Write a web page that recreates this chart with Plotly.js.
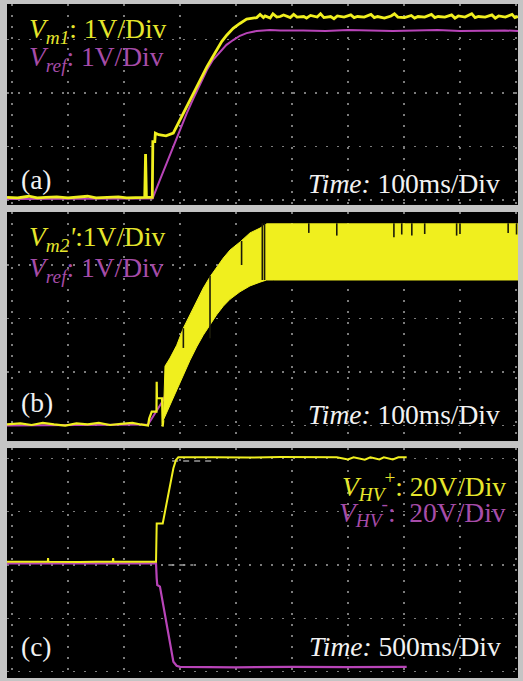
<!DOCTYPE html>
<html>
<head>
<meta charset="utf-8">
<script src="https://cdn.plot.ly/plotly-3.0.1.min.js"></script>
<style>
  html, body { margin: 0; padding: 0; background: #c4c4c4; }
  #chart { width: 523px; height: 681px; }
</style>
</head>
<body>
<div id="chart"></div>
<script>
// ---------------- Panel (a): Vm1 and Vref, 100 ms/div, 1 V/div ----------------
const aVm1Time = [-8.9, 10, 30, 45, 60, 80, 100, 118, 135, 150, 170, 190, 205, 222, 237, 238.5, 240, 250.5, 251.5, 255, 256, 262, 275, 288,
  300, 312, 321, 330, 339, 348, 357, 365.5, 374.5, 383.4, 395, 407, 419, 437,
  443, 449, 452, 461, 466, 473, 479, 485, 497, 503, 509, 521, 526, 533, 545, 551, 557, 569, 575, 581, 593, 605, 611, 617, 629, 641, 647, 653, 665, 677, 683, 689, 701, 713, 719, 725,
  737, 749, 755, 761, 773, 785, 791, 797, 809, 821, 827, 833, 845, 857, 863, 869, 881, 893, 898, 903.6];
const aVm1 = [0.05, 0.04, 0.07, 0.04, 0.05, 0.06, 0.04, 0.05, 0.07, 0.04, 0.05, 0.06, 0.04, 0.05, 0.05, 0.86, 0.05, 0.05, 1.09, 1.09, 1.25, 1.22, 1.20, 1.25,
  1.50, 1.74, 1.93, 2.12, 2.30, 2.49, 2.65, 2.80, 2.96, 3.08, 3.21, 3.30, 3.38, 3.41,
  3.47, 3.41, 3.44, 3.40, 3.48, 3.42, 3.43, 3.46, 3.41, 3.47, 3.42, 3.43, 3.40, 3.45, 3.42, 3.48, 3.41, 3.43, 3.39, 3.44, 3.42, 3.46, 3.41, 3.43, 3.42, 3.47, 3.41, 3.43, 3.40, 3.44, 3.48, 3.42, 3.41, 3.45, 3.40, 3.43,
  3.42, 3.47, 3.41, 3.43, 3.42, 3.46, 3.40, 3.44, 3.42, 3.48, 3.41, 3.43, 3.42, 3.46, 3.40, 3.44, 3.42, 3.47, 3.41, 3.43];
const aVrefTime = [-8.9, 251, 264, 276, 288, 300, 312, 324, 336, 348, 359, 371, 383, 395, 407, 419, 437, 461, 479, 520, 560, 600, 640, 680, 720, 760, 800, 840, 880, 903.6];
const aVref = [0.02, 0.03, 0.37, 0.69, 1.00, 1.31, 1.62, 1.90, 2.18, 2.43, 2.62, 2.77, 2.90, 2.99, 3.07, 3.12, 3.16, 3.18, 3.17, 3.17, 3.16, 3.18, 3.17, 3.16, 3.17, 3.18, 3.16, 3.17, 3.17, 3.16];

// ---------------- Panel (b): Vm2' and Vref, 100 ms/div, 1 V/div ----------------
const bVm2Time = [-8.9, 15, 35, 55, 75, 95, 115, 135, 155, 175, 195, 215, 230, 242.9, 245, 249.5, 258, 258.4, 258.8, 268, 269, 270.2];
const bVm2 = [0.02, 0.04, 0.01, 0.05, 0.02, 0.00, 0.04, 0.02, 0.05, 0.01, 0.03, 0.05, 0.02, 0.00, 0.13, 0.26, 0.26, 0.82, 0.51, 0.51, -0.02, 0.10];
const bBandTime = [270.2, 273.2, 282.1, 294.1, 305.9, 317.9, 329.8, 341.6, 353.6, 365.5, 377.3, 389.3, 407.1, 425, 442.9, 454.8, 466.6, 496.4, 903.6];
const bBandHigh = [0.10, 1.11, 1.26, 1.50, 1.82, 2.07, 2.31, 2.57, 2.78, 2.96, 3.13, 3.28, 3.43, 3.60, 3.69, 3.77, 3.77, 3.77, 3.77];
const bBandLow = [0.10, 0.17, 0.40, 0.68, 0.96, 1.22, 1.47, 1.69, 1.88, 2.07, 2.23, 2.36, 2.50, 2.61, 2.68, 2.72, 2.72, 2.72, 2.72];
const bVrefTime = [-8.9, 243, 268, 300, 330, 354, 380, 407, 437, 470, 903.6];
const bVref = [0.00, 0.02, 0.44, 1.10, 1.75, 2.28, 2.75, 3.03, 3.12, 3.15, 3.15];
// dropouts (dark gaps) inside the switching band
const bGapTime = [306, 353.6, 410, 447, 451, 530, 580, 682, 696, 714, 737, 794, 800, 886, 901];
const bGapTop = [1.82, 2.80, 3.45, 3.78, 3.78, 3.78, 3.78, 3.78, 3.78, 3.78, 3.78, 3.78, 3.78, 3.78, 3.78];
const bGapBottom = [1.45, 1.63, 3.00, 2.72, 2.72, 3.60, 3.55, 3.52, 3.57, 3.55, 3.58, 3.55, 3.58, 3.60, 3.57];

// ---------------- Panel (c): VHV+ and VHV-, 500 ms/div, 20 V/div ----------------
const cTime = [-44.6, 300, 320, 322, 325, 600, 900, 903, 906, 1100, 1286, 1292, 1346, 1366, 1396, 1426, 1441, 1464, 1485,
  1800, 2100, 2400, 2700, 2900, 3000, 3050, 3150, 3200, 3280, 3320, 3400, 3450, 3524];
const cVhvPlus = [1.2, 1.3, 1.2, 2.6, 1.2, 1.1, 1.3, 2.6, 1.2, 1.2, 1.24, 15.6, 15.6, 20.0, 26.3, 33.1, 36.3, 39.4, 40.4,
  40.4, 40.3, 40.5, 40.3, 40.4, 39.6, 40.4, 39.5, 40.4, 39.6, 40.4, 39.6, 40.4, 40.4];
const cMinusTime = [-44.6, 500, 1000, 1286, 1292, 1297, 1321, 1351, 1381, 1411, 1426, 1441, 1470, 1500, 2000, 2500, 3000, 3524];
const cVhvMinus = [0.6, 0.6, 0.7, 0.64, -5.0, -7.5, -8.1, -15.0, -22.5, -30.0, -33.8, -36.3, -37.8, -38.2, -38.4, -38.2, -38.3, -38.2];
const cGrayTime = [1430, 1800, null, 1396, 1620];
const cGrayLevel = [39.0, 39.0, null, 0.0, 0.0];

// ---------------- styling ----------------
const YEL = '#f0ef1e', PUR = '#b844b8';
const YEL_T = '#e6e62c', PUR_T = '#a64ca8';
const SERIF = 'Liberation Serif, Times New Roman, serif';
const FS = 27.5;

function segs(t, top, bot) {
  const x = [], y = [];
  for (let i = 0; i < t.length; i++) { x.push(t[i], t[i], null); y.push(top[i], bot[i], null); }
  return {x, y};
}
const gaps = segs(bGapTime, bGapTop, bGapBottom);

const base = {mode: 'lines', hoverinfo: 'skip', showlegend: false};
const traces = [
  Object.assign({}, base, {x: aVrefTime, y: aVref, xaxis: 'x', yaxis: 'y', line: {color: PUR, width: 2}}),
  Object.assign({}, base, {x: aVm1Time, y: aVm1, xaxis: 'x', yaxis: 'y', line: {color: YEL, width: 2.8}}),

  Object.assign({}, base, {x: bVrefTime, y: bVref, xaxis: 'x2', yaxis: 'y2', line: {color: PUR, width: 2}}),
  Object.assign({}, base, {x: bVm2Time, y: bVm2, xaxis: 'x2', yaxis: 'y2', line: {color: YEL, width: 2.2}}),
  Object.assign({}, base, {x: bBandTime, y: bBandLow, xaxis: 'x2', yaxis: 'y2', line: {color: YEL, width: 1}}),
  Object.assign({}, base, {x: bBandTime, y: bBandHigh, xaxis: 'x2', yaxis: 'y2', line: {color: YEL, width: 1}, fill: 'tonexty', fillcolor: YEL}),
  Object.assign({}, base, {x: gaps.x, y: gaps.y, xaxis: 'x2', yaxis: 'y2', line: {color: '#1a1a0a', width: 1.6}}),

  Object.assign({}, base, {x: cGrayTime, y: cGrayLevel, xaxis: 'x3', yaxis: 'y3', line: {color: '#9a9a9a', width: 1.5, dash: '6px,5px'}}),
  Object.assign({}, base, {x: cMinusTime, y: cVhvMinus, xaxis: 'x3', yaxis: 'y3', line: {color: PUR, width: 2.2}}),
  Object.assign({}, base, {x: cTime, y: cVhvPlus, xaxis: 'x3', yaxis: 'y3', line: {color: YEL, width: 2}}),
];

const ax = {showticklabels: false, ticks: '', zeroline: false, showline: false, showgrid: true,
  gridcolor: '#7c7c7c', gridwidth: 1.5, griddash: '2px,9px', fixedrange: true};
const W = 511, H = 674, L = 7, T = 4;
function ann(text, px, py, color, xanchor) {
  return {text, xref: 'paper', yref: 'paper', x: (px - L) / W, y: (T + H - py) / H,
    xanchor, yanchor: 'middle', showarrow: false, font: {family: SERIF, size: FS, color}};
}

const layout = {
  width: 523, height: 681,
  margin: {l: 7, r: 5, t: 4, b: 3, pad: 0},
  paper_bgcolor: '#c4c4c4', plot_bgcolor: '#000000',
  showlegend: false,
  xaxis: Object.assign({}, ax, {range: [-8.93, 903.6], tick0: 0, dtick: 100, domain: [0, 1], anchor: 'y'}),
  yaxis: Object.assign({}, ax, {range: [-0.0935, 3.664], tick0: 0, dtick: 1, domain: [0.7018, 1], anchor: 'x'}),
  xaxis2: Object.assign({}, ax, {range: [-8.93, 903.6], tick0: 0, dtick: 100, domain: [0, 1], anchor: 'y2'}),
  yaxis2: Object.assign({}, ax, {range: [-0.2897, 3.991], tick0: 0, dtick: 1, domain: [0.3516, 0.6914], anchor: 'x2'}),
  xaxis3: Object.assign({}, ax, {range: [-44.6, 4518], tick0: 0, dtick: 500, domain: [0, 1], anchor: 'y3'}),
  yaxis3: Object.assign({}, ax, {range: [-42.4, 43.9], tick0: 0, dtick: 20, domain: [0, 0.3412], anchor: 'x3'}),
  annotations: [
    ann('<i>V<sub>m1</sub></i>: 1V/Div', 27, 30, YEL_T, 'left'),
    ann('<i>V<sub>ref</sub></i>: 1V/Div', 27, 59, PUR_T, 'left'),
    ann('(a)', 19, 179, '#f2f2f2', 'left'),
    ann('<i>Time:</i> 100ms/Div', 502, 183, '#f2f2f2', 'right'),

    ann("<i>V<sub>m2</sub>'</i>:1V/Div", 27, 238, YEL_T, 'left'),
    ann('<i>V<sub>ref</sub></i>: 1V/Div', 27, 269, PUR_T, 'left'),
    ann('(b)', 19, 403, '#f2f2f2', 'left'),
    ann('<i>Time:</i> 100ms/Div', 502, 414, '#f2f2f2', 'right'),

    ann('<i>V<sub>HV</sub></i><sup>+</sup>: 20V/Div', 508, 486, YEL_T, 'right'),
    ann('<i>V<sub>HV</sub></i><sup>-</sup>:\u00a0 20V/Div', 508, 512, PUR_T, 'right'),
    ann('(c)', 19, 646, '#f2f2f2', 'left'),
    ann('<i>Time:</i> 500ms/Div', 503, 646, '#f2f2f2', 'right'),
  ]
};

Plotly.newPlot('chart', traces, layout, {displayModeBar: false, staticPlot: true});
</script>
</body>
</html>
